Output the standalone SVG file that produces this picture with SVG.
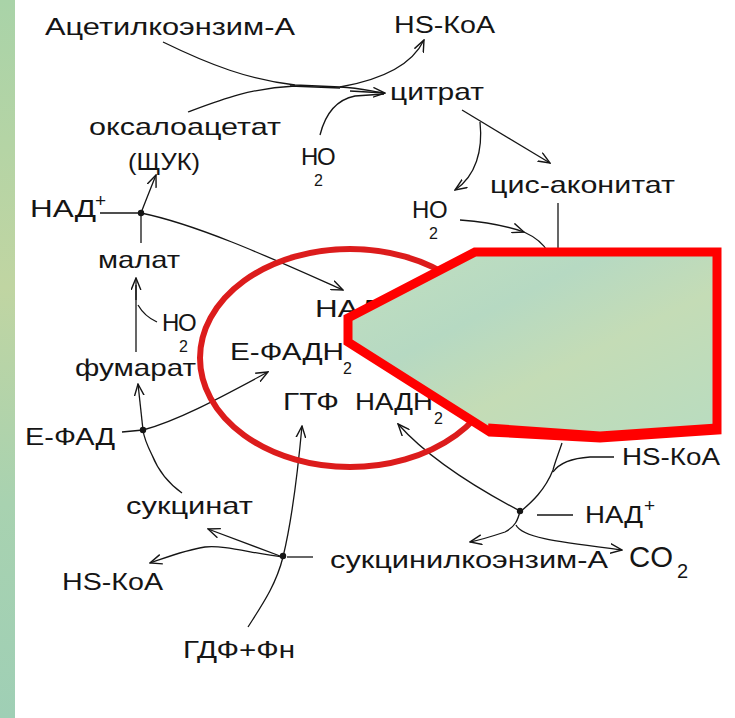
<svg xmlns="http://www.w3.org/2000/svg" width="735" height="718" viewBox="0 0 735 718">
<defs>
<style>
text{font-family:"Liberation Sans","DejaVu Sans",sans-serif;font-size:24px;fill:#151515}
.sub{font-size:16px}
.sup{font-size:19px}
.c{fill:none;stroke:#151515;stroke-width:1.3}
.a{marker-end:url(#ah)}
</style>
<marker id="ah" viewBox="0 0 12 10" refX="11" refY="5" markerWidth="13" markerHeight="11" orient="auto" markerUnits="userSpaceOnUse"><path d="M0,0.5 L11,5 L0,9.5" fill="none" stroke="#151515" stroke-width="1.3"/></marker>
<linearGradient id="strip" x1="0" y1="0" x2="0" y2="1"><stop offset="0" stop-color="#a9d3a8"/><stop offset="0.4" stop-color="#c0d5a2"/><stop offset="0.7" stop-color="#a8d2b0"/><stop offset="1" stop-color="#9fcfb5"/></linearGradient>
<linearGradient id="poly" x1="0" y1="0" x2="1" y2="1"><stop offset="0" stop-color="#c2e0bf"/><stop offset="0.35" stop-color="#b6d9c2"/><stop offset="0.6" stop-color="#c4dcb6"/><stop offset="1" stop-color="#b8dcc0"/></linearGradient>
</defs>
<rect width="735" height="718" fill="#ffffff"/>
<rect x="0" y="0" width="15" height="718" fill="url(#strip)"/>

<g id="connectors">
<path class="c" d="M163,42 C210,65 250,80 295,85 L340,87 C360,88 370,91 384,93"/>
<path class="c a" d="M350,91 L385,93"/>
<path class="c" d="M188,112 C220,100 250,88 295,86"/>
<path class="c" stroke-width="3" d="M290,86 L340,88"/>
<path class="c a" d="M340,87 C380,80 412,65 424,40"/>
<path class="c" d="M320,135 C325,115 335,100 355,96 L384,94"/>
<path class="c a" d="M462,110 L550,163"/>
<path class="c a" d="M480,122 C483,150 476,176 455,190"/>
<path class="c a" d="M460,220 C485,222 510,227 524,232"/>
<path class="c" d="M524,232 C535,237 543,243 548,252"/>
<path class="c" d="M558,203 L558,252"/>

<path class="c" d="M100,213 L141,213"/>
<path class="c" d="M141,243 L141,213"/>
<path class="c a" d="M141,213 C146,200 150,190 156,175"/>
<path class="c a" d="M141,213 C200,225 280,262 343,290"/>
<path class="c a" d="M136,352 L136,278"/>
<path class="c" stroke-width="2.5" d="M136,300 L136,285"/>
<path class="c" d="M157,322 C148,318 142,312 138,305"/>
<path class="c" d="M122,432 L143,430"/>
<path class="c" d="M182,493 C168,483 158,470 152,455 C147,445 144,438 143,430"/>
<path class="c a" d="M143,430 L138,384"/>
<path class="c a" d="M143,430 C180,420 225,395 268,372"/>

<path class="c" d="M287,557 L313,557"/>
<path class="c a" d="M283,557 C292,520 297,480 302,426"/>
<path class="c" d="M248,627 C262,605 276,585 283,557"/>
<path class="c a" d="M280,556 L208,529"/>
<path class="c a" d="M283,557 C250,553 225,545 205,547 C185,550 165,558 150,563"/>

<path class="c" d="M562,443 C558,455 555,462 553,470 C545,490 532,502 520,512"/>
<path class="c" d="M614,457 L590,457 C575,458 560,462 553,472"/>
<path class="c" d="M537,515 L573,515"/>
<path class="c a" d="M520,511 C480,490 430,460 398,424"/>
<path class="c a" d="M520,511 C518,520 515,527 505,532 C490,537 480,540 470,542"/>
<path class="c a" d="M516,525 C522,538 560,542 622,550"/>
<circle cx="141" cy="213" r="3.2" fill="#151515"/>
<circle cx="143" cy="430" r="3.2" fill="#151515"/>
<circle cx="283" cy="556" r="3.2" fill="#151515"/>
<circle cx="520" cy="511" r="3.2" fill="#151515"/>
</g>

<g id="acetyl"><text x="45" y="35" textLength="250" lengthAdjust="spacingAndGlyphs">Ацетилкоэнзим-А</text></g>
<g id="hskoa-top"><text x="394" y="33" textLength="101" lengthAdjust="spacingAndGlyphs">HS-КоА</text></g>
<g id="citrate"><text x="390" y="100" textLength="94" lengthAdjust="spacingAndGlyphs">цитрат</text></g>
<g id="oxaloacetate"><text x="89" y="135" textLength="192" lengthAdjust="spacingAndGlyphs">оксалоацетат</text><text x="128" y="170" textLength="72" lengthAdjust="spacingAndGlyphs">(ЩУК)</text></g>
<g id="h2o-1"><text x="301" y="165">H</text><text x="317" y="165">O</text><text class="sub" x="314" y="186">2</text></g>
<g id="nad-left"><text x="30" y="217" textLength="66" lengthAdjust="spacingAndGlyphs">НАД</text><text class="sup" x="95" y="207">+</text></g>
<g id="malate"><text x="98" y="268" textLength="82" lengthAdjust="spacingAndGlyphs">малат</text></g>
<g id="h2o-2"><text x="162" y="331">H</text><text x="178" y="331">O</text><text class="sub" x="179" y="352">2</text></g>
<g id="fumarate"><text x="75" y="376" textLength="121" lengthAdjust="spacingAndGlyphs">фумарат</text></g>
<g id="efad"><text x="25" y="445" textLength="90" lengthAdjust="spacingAndGlyphs">Е-ФАД</text></g>
<g id="succinate"><text x="126" y="514" textLength="127" lengthAdjust="spacingAndGlyphs">сукцинат</text></g>
<g id="hskoa-left"><text x="62" y="590" textLength="101" lengthAdjust="spacingAndGlyphs">HS-КоА</text></g>
<g id="gdf"><text x="183" y="658" textLength="112" lengthAdjust="spacingAndGlyphs">ГДФ+Фн</text></g>
<g id="cis-aconitate"><text x="490" y="193" textLength="185" lengthAdjust="spacingAndGlyphs">цис-аконитат</text></g>
<g id="h2o-3"><text x="412" y="218">H</text><text x="429" y="218">O</text><text class="sub" x="429" y="239">2</text></g>
<g id="hskoa-right"><text x="622" y="465" textLength="98" lengthAdjust="spacingAndGlyphs">HS-КоА</text></g>
<g id="nad-right"><text x="585" y="523" textLength="58" lengthAdjust="spacingAndGlyphs">НАД</text><text class="sup" x="644" y="512">+</text></g>
<g id="co2"><text x="629" y="567" style="font-size:30px" textLength="44" lengthAdjust="spacingAndGlyphs">CO</text><text x="677" y="578" style="font-size:20px">2</text></g>
<g id="succinyl"><text x="330" y="568" textLength="278" lengthAdjust="spacingAndGlyphs">сукцинилкоэнзим-А</text></g>

<g id="products">
<text x="315" y="317" textLength="66" lengthAdjust="spacingAndGlyphs">НАД</text>
<text x="230" y="360" textLength="114" lengthAdjust="spacingAndGlyphs">Е-ФАДН</text><text class="sub" x="343" y="374">2</text>
<text x="283" y="410" textLength="56" lengthAdjust="spacingAndGlyphs">ГТФ</text>
<text x="355" y="410" textLength="78" lengthAdjust="spacingAndGlyphs">НАДН</text><text class="sub" x="434" y="424">2</text>
<ellipse cx="350" cy="358" rx="150" ry="109" fill="none" stroke="#dc1c1c" stroke-width="6"/>
</g>

<g id="cover">
<polygon points="475,252 348,318 348,342 490,432 600,438 717,430 717,252" fill="url(#poly)" stroke="#ff0000" stroke-width="9" stroke-linejoin="miter"/>
<path d="M488,428 L600,436 L717,428" fill="none" stroke="#ff0000" stroke-width="9"/>
</g>
</svg>
